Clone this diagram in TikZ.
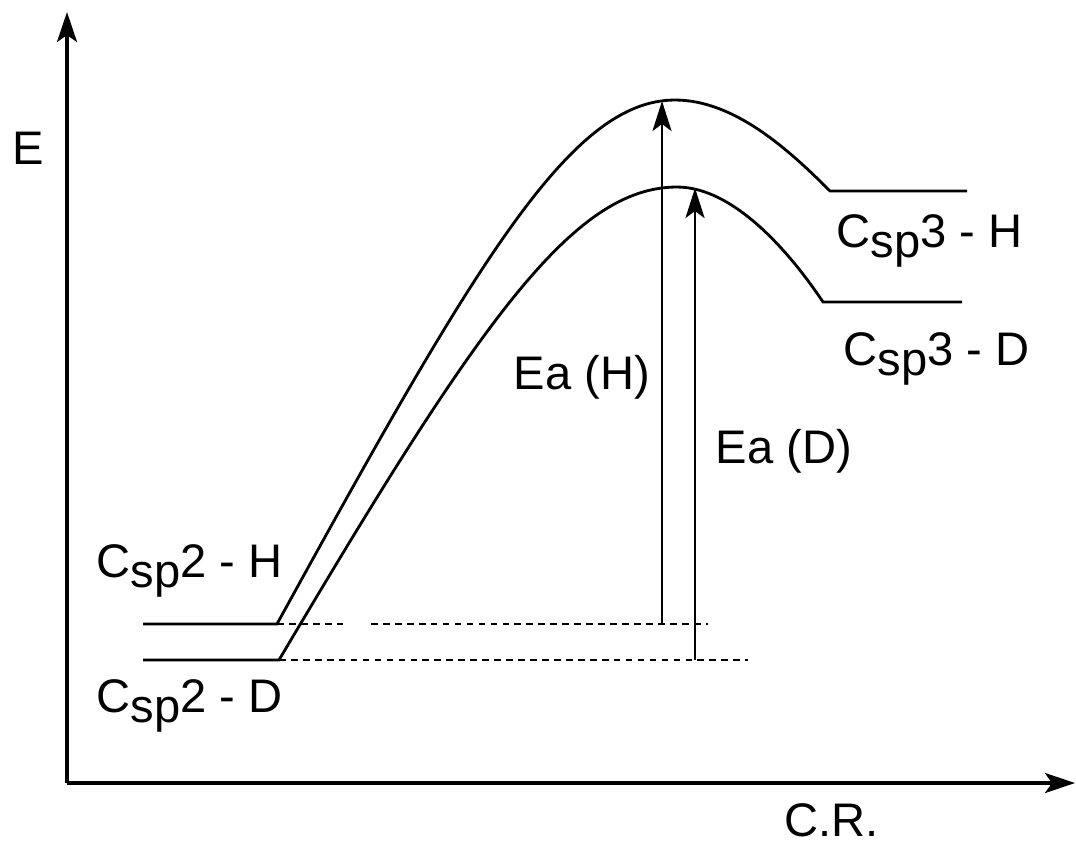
\documentclass[tikz,border=0pt]{standalone}
\usepackage{fontspec}
\setmainfont{Liberation Sans}
\usetikzlibrary{arrows.meta, positioning, calc}
\tikzset{
    axis/.style={-{Stealth[length=3mm, width=2mm, inset=0.7mm]}, line width=1pt},
    curve/.style={line width=0.8pt},
    guide/.style={line width=0.8pt, dash pattern=on 1.9pt off 1.5pt},
    ea_arrow/.style={-{Stealth[length=3mm, width=1.9mm, inset=0.7mm]}, line width=0.8pt},
    txt/.style={inner sep=0pt, anchor=base west, font=\fontsize{13.4}{16}\selectfont}
}
\newcommand{\lowsp}{\raisebox{-0.1cm}{sp}}

\begin{document}
\begin{tikzpicture}[x=0.01cm, y=-0.01cm]
    \useasboundingbox (0,0) rectangle (1076,847);

    % axes
    \coordinate (O) at (67,783);
    \coordinate (Etip) at (67,12);
    \coordinate (CRtip) at (1075,783);
    \draw [axis] (O) -- (Etip);
    \draw [axis] (O) -- (CRtip);
    \node (Elabel) [txt] at (12,164) {E};
    \node (CRlabel) [txt] at (784,836) {C.R.};

    % levels and curves
    \coordinate (H0) at (143,624);
    \coordinate (H1) at (277,624);
    \coordinate (D0) at (143,660);
    \coordinate (D1) at (279,660);
    \coordinate (TSH) at (675,100);
    \coordinate (TSD) at (677,187);
    \coordinate (H3a) at (830,191);
    \coordinate (H3b) at (967,191);
    \coordinate (D3a) at (823,302);
    \coordinate (D3b) at (962,302);

    \draw [curve] (H0) -- (H1) .. controls (477,260) and (571,100) .. (TSH)
        .. controls (735,100) and (790,151) .. (H3a) -- (H3b);
    \draw [curve] (D0) -- (D1) .. controls (479,322) and (573,187) .. (TSD)
        .. controls (737,187) and (795,260) .. (D3a) -- (D3b);

    % dashed guides
    \coordinate (gapA) at (345,624);
    \coordinate (gapB) at (371,624);
    \coordinate (Hend) at (708,624);
    \coordinate (Dend) at (748,660);
    \draw [guide] (H1) -- (gapA);
    \draw [guide] (gapB) -- (Hend);
    \draw [guide] (D1) -- (Dend);

    % activation energies
    \coordinate (eaH0) at (662,624);
    \coordinate (eaH1) at (662,101);
    \coordinate (eaD0) at (695,660);
    \coordinate (eaD1) at (695,188);
    \draw [ea_arrow] (eaH0) -- (eaH1);
    \draw [ea_arrow] (eaD0) -- (eaD1);
    \node (eaHlabel) [txt] at (513,389) {Ea (H)};
    \node (eaDlabel) [txt] at (715,463) {Ea (D)};

    % level labels
    \node (sp2H) [txt] at (96,577) {C\lowsp2 - H};
    \node (sp2D) [txt] at (96,712) {C\lowsp2 - D};
    \node (sp3H) [txt] at (836,247) {C\lowsp3 - H};
    \node (sp3D) [txt] at (843,365) {C\lowsp3 - D};
\end{tikzpicture}
\end{document}
